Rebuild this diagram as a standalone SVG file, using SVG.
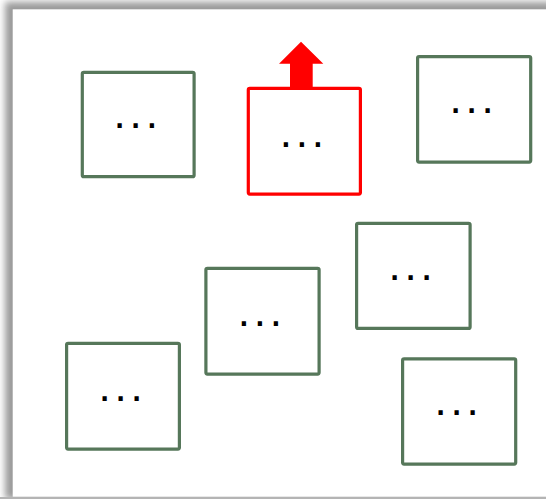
<svg xmlns="http://www.w3.org/2000/svg" width="546" height="499" viewBox="0 0 546 499">
  <style>
    .box { fill: #ffffff; stroke: #56775a; stroke-width: 3.2; }
    .box.active { stroke: #ff0000; }
    .label { font-family: "Liberation Sans", Arial, sans-serif; font-size: 44px; letter-spacing: 3.8px; fill: #000000; }
  </style>
  <defs>
    <filter id="panelShadow" x="-5%" y="-5%" width="110%" height="110%">
      <feGaussianBlur stdDeviation="3.5"/>
    </filter>
  </defs>

  <!-- canvas and panel with soft shadow -->
  <rect x="0" y="0" width="546" height="499" fill="#ffffff"/>
  <rect x="5" y="2" width="560" height="497" fill="#9a9a9a" filter="url(#panelShadow)"/>
  <rect x="0" y="497" width="546" height="2" fill="#b4b4b4"/>
  <rect x="12.7" y="9.3" width="540" height="487.4" fill="#ffffff"/>

  <g id="connectors">
    <!-- upward arrow above the highlighted node -->
    <polygon points="301,41.7 323.3,63.7 312.7,63.7 312.7,88 290,88 290,63.7 279,63.7" fill="#ff0000"/>
  </g>

  <g id="node-a">
    <rect class="box" x="82.3" y="72.3" width="111.8" height="104.4" rx="1.5"/>
    <text class="label" x="113.6" y="127.5">...</text>
  </g>
  <g id="node-active">
    <rect class="box active" x="248.3" y="88.3" width="112.1" height="105.8" rx="1.5"/>
    <text class="label" x="279.7" y="146.5">...</text>
  </g>
  <g id="node-b">
    <rect class="box" x="417.6" y="56.6" width="113.1" height="105.5" rx="1.5"/>
    <text class="label" x="449.5" y="112.5">...</text>
  </g>
  <g id="node-c">
    <rect class="box" x="356.6" y="223.3" width="113.5" height="105.1" rx="1.5"/>
    <text class="label" x="388.5" y="279.5">...</text>
  </g>
  <g id="node-d">
    <rect class="box" x="205.9" y="268.3" width="113.2" height="105.8" rx="1.5"/>
    <text class="label" x="237.8" y="325.5">...</text>
  </g>
  <g id="node-e">
    <rect class="box" x="66.6" y="343.3" width="112.8" height="105.8" rx="1.5"/>
    <text class="label" x="98.5" y="400.5">...</text>
  </g>
  <g id="node-f">
    <rect class="box" x="402.6" y="358.9" width="113.1" height="105.2" rx="1.5"/>
    <text class="label" x="434.5" y="415">...</text>
  </g>
</svg>
